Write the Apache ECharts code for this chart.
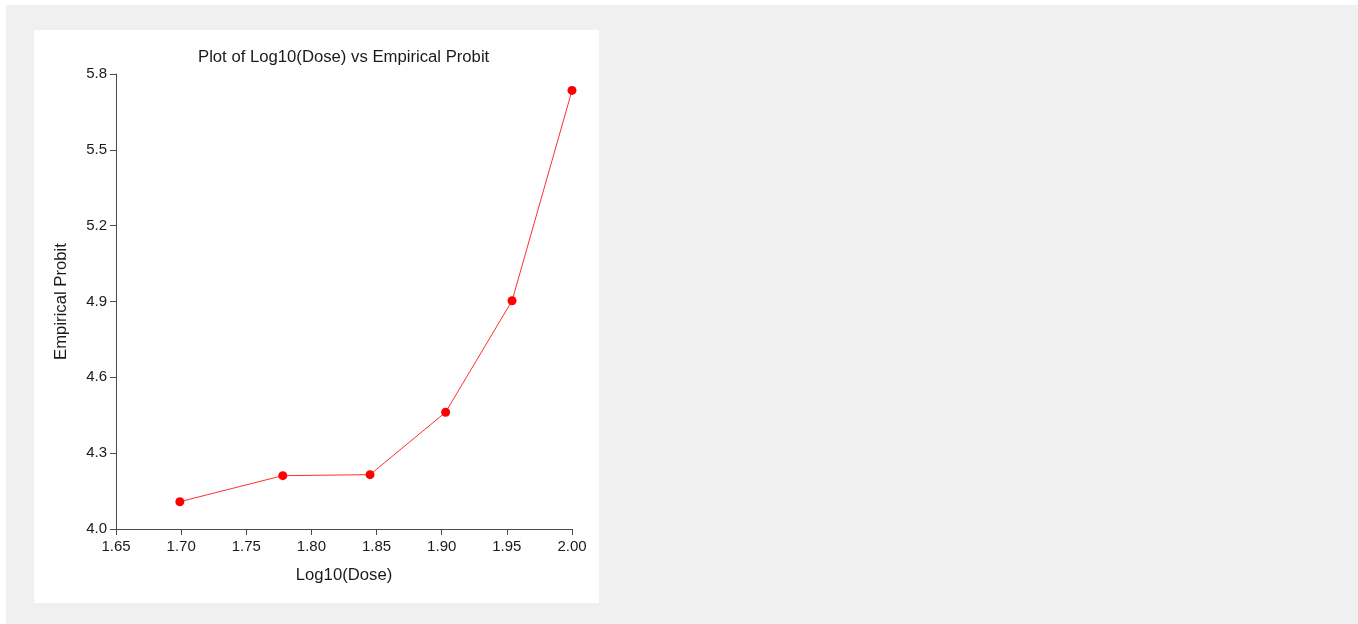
<!DOCTYPE html>
<html>
<head>
<meta charset="utf-8">
<title>Plot of Log10(Dose) vs Empirical Probit</title>
<script src="https://cdn.jsdelivr.net/npm/echarts@6/dist/echarts.min.js"></script>
<style>
  html, body { margin: 0; padding: 0; background: #ffffff; }
  #chart { width: 1358px; height: 624px; }
</style>
</head>
<body>
<div id="chart"></div>
<script>
// Log10 of the dose levels and the empirical probit at each level
const logDose = [1.699, 1.778, 1.845, 1.903, 1.954, 2.000];
const empiricalProbit = [4.108, 4.211, 4.215, 4.462, 4.903, 5.735];

const xTicks = { min: 1.65, max: 2.00, interval: 0.05 };
const yTicks = { min: 4.0, max: 5.8, interval: 0.3 };

const chart = echarts.init(document.getElementById('chart'), null, { renderer: 'canvas' });

const fontFamily = 'Arial, "Liberation Sans", sans-serif';
const axisColor = '#4a4a4a';
const textColor = '#1a1a1a';

chart.setOption({
  backgroundColor: '#ffffff',
  animation: false,
  graphic: [
    { type: 'rect', z: -10, silent: true,
      shape: { x: 6, y: 5, width: 1352, height: 619 },
      style: { fill: '#f0f0f0' } },
    { type: 'rect', z: -9, silent: true,
      shape: { x: 34, y: 30, width: 565, height: 573 },
      style: { fill: '#ffffff' } }
  ],
  title: {
    text: 'Plot of Log10(Dose) vs Empirical Probit',
    left: 193,
    top: 44,
    textStyle: { fontFamily, fontSize: 16.7, fontWeight: 'normal', color: textColor }
  },
  grid: { left: 116, top: 74, width: 456, height: 455, containLabel: false },
  xAxis: {
    type: 'value',
    min: xTicks.min, max: xTicks.max, interval: xTicks.interval,
    name: 'Log10(Dose)',
    nameLocation: 'middle',
    nameGap: 38,
    nameTextStyle: { fontFamily, fontSize: 16.7, color: textColor },
    axisLine: { show: true, lineStyle: { color: axisColor, width: 1 } },
    axisTick: { show: true, length: 6, lineStyle: { color: axisColor } },
    axisLabel: { fontFamily, fontSize: 15, color: textColor, margin: 10,
      formatter: v => v.toFixed(2) },
    splitLine: { show: false }
  },
  yAxis: {
    type: 'value',
    min: yTicks.min, max: yTicks.max, interval: yTicks.interval,
    name: 'Empirical Probit',
    nameLocation: 'middle',
    nameGap: 46,
    nameTextStyle: { fontFamily, fontSize: 16.7, color: textColor },
    axisLine: { show: true, lineStyle: { color: axisColor, width: 1 } },
    axisTick: { show: true, length: 6, lineStyle: { color: axisColor } },
    axisLabel: { fontFamily, fontSize: 15, color: textColor, margin: 9,
      formatter: v => v.toFixed(1) },
    splitLine: { show: false }
  },
  series: [{
    type: 'line',
    data: logDose.map((x, i) => [x, empiricalProbit[i]]),
    symbol: 'circle',
    symbolSize: 9,
    lineStyle: { color: '#ff3030', width: 1 },
    itemStyle: { color: '#ff0000' }
  }]
});
</script>
</body>
</html>
